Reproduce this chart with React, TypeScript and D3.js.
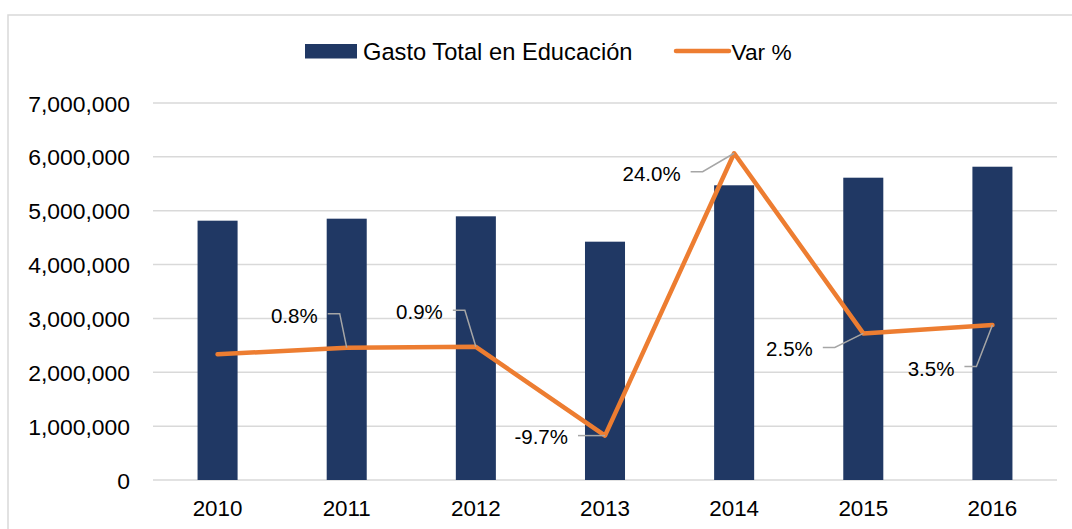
import React from "react";
import * as d3 from "d3";

const years = ["2010", "2011", "2012", "2013", "2014", "2015", "2016"];
const gasto = [4815000, 4852000, 4896000, 4425000, 5472000, 5613000, 5817000];
const varPct = [0, 0.8, 0.9, -9.7, 24.0, 2.5, 3.5];
const varLabels = ["", "0.8%", "0.9%", "-9.7%", "24.0%", "2.5%", "3.5%"];
const yTicks = [0, 1000000, 2000000, 3000000, 4000000, 5000000, 6000000, 7000000];
// data label offset (text end, text center) relative to its point
const labelPos: ([number, number] | null)[] = [
  null,
  [-29, -32.5],
  [-33, -35],
  [-37, 0.5],
  [-53.5, 20],
  [-50.5, 15.6],
  [-38, 43],
];

const W = 1072;
const H = 529;
const M = { left: 153, right: 1057, top: 103, bottom: 480 };
const FONT = "'Liberation Sans', Arial, sans-serif";
const NAVY = "#203864";
const ORANGE = "#ED7D31";

export default function App() {
  const x = d3.scaleBand<string>().domain(years).range([M.left, M.right]).paddingInner(0.69).paddingOuter(0.345);
  const xc = d3.scalePoint<string>().domain(years).range([M.left, M.right]).padding(0.5);
  const y = d3.scaleLinear().domain([0, 7000000]).range([M.bottom, M.top]);
  const y2 = d3.scaleLinear().domain([-15, 30]).range([M.bottom, M.top]);
  const fmt = d3.format(",");
  const line = d3
    .line<number>()
    .x((_, i) => xc(years[i])!)
    .y((d) => y2(d));

  return (
    <svg width={W} height={H} style={{ position: "absolute", left: 0, top: 0, background: "#fff" }} fontFamily={FONT}>
      <rect x={8} y={15} width={W + 10} height={H + 10} fill="#fff" stroke="#D9D9D9" strokeWidth={1.5} />
      {/* legend */}
      <rect x={305} y={44} width={52} height={14.5} fill={NAVY} />
      <text x={363} y={52} dominantBaseline="central" fontSize={23.7} fill="#000">
        Gasto Total en Educación
      </text>
      <line x1={676} x2={729} y1={51} y2={51} stroke={ORANGE} strokeWidth={4.5} strokeLinecap="round" />
      <text x={731.5} y={52} dominantBaseline="central" fontSize={22.7} fill="#000">
        Var %
      </text>
      {/* gridlines */}
      {yTicks.map((t) => (
        <g key={t}>
          <line x1={M.left} x2={M.right} y1={y(t)} y2={y(t)} stroke="#D9D9D9" strokeWidth={1.5} />
          <text x={130} y={y(t) + 0.5} textAnchor="end" dominantBaseline="central" fontSize={22.9} fill="#000">
            {fmt(t)}
          </text>
        </g>
      ))}
      {/* bars */}
      {gasto.map((v, i) => (
        <rect key={years[i]} x={x(years[i])} y={y(v)} width={x.bandwidth()} height={y(0) - y(v)} fill={NAVY} />
      ))}
      {/* x labels */}
      {years.map((yr) => (
        <text key={yr} x={xc(yr)} y={508} textAnchor="middle" dominantBaseline="central" fontSize={22.4} fill="#000">
          {yr}
        </text>
      ))}
      {/* line */}
      <path d={line(varPct)!} fill="none" stroke={ORANGE} strokeWidth={4.5} strokeLinejoin="round" strokeLinecap="round" />
      {/* data labels */}
      {varPct.map((v, i) => {
        const p = labelPos[i];
        if (!p) return null;
        const px = xc(years[i])!;
        const py = y2(v);
        const tx = px + p[0];
        const ty = py + p[1];
        const horizontal = Math.abs(p[1]) < 3;
        return (
          <g key={years[i]}>
            {horizontal ? (
              <polyline points={`${tx + 10},${py} ${px},${py}`} fill="none" stroke="#A6A6A6" strokeWidth={1.5} />
            ) : (
              <polyline
                points={`${tx + 10},${ty - 1.5} ${tx + 22},${ty - 1.5} ${px},${py}`}
                fill="none"
                stroke="#A6A6A6"
                strokeWidth={1.5}
              />
            )}
            <text x={tx} y={ty} textAnchor="end" dominantBaseline="central" fontSize={20.5} fill="#000">
              {varLabels[i]}
            </text>
          </g>
        );
      })}
    </svg>
  );
}
